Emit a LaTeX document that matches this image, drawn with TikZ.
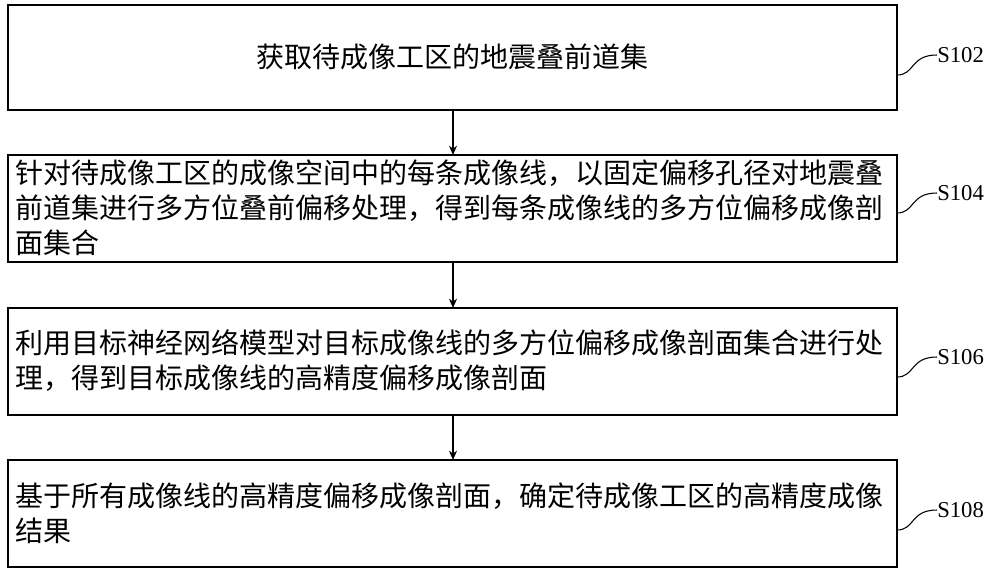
\documentclass[tikz,border=0pt]{standalone}
\usepackage{fontspec}
\setmainfont{Liberation Serif}
\newfontfamily\cjk{Noto Sans CJK SC}
\usetikzlibrary{arrows.meta}
\begin{document}
\begin{tikzpicture}[x=0.75pt,y=-0.75pt,
  box/.style={draw,line width=0.8pt},
  txt/.style={font=\cjk\fontsize{21}{26.3}\selectfont,anchor=west,align=left,inner sep=0pt},
  lab/.style={font=\fontsize{17}{20}\selectfont,anchor=west,inner sep=0pt},
  arr/.style={-{Stealth[length=7pt,width=6pt]},line width=0.8pt},
  cur/.style={line width=0.8pt}]
\useasboundingbox (0,0) rectangle (1000,575);
\draw[box] (8,5) rectangle (897,110);
\draw[box] (8,155) rectangle (897,262);
\draw[box] (8,308) rectangle (897,415);
\draw[box] (8,460) rectangle (897,567);
\node[font=\cjk\fontsize{21}{26.3}\selectfont] (t1) at (452,57) {获取待成像工区的地震叠前道集};
\node[txt] (t2) at (15,208) {针对待成像工区的成像空间中的每条成像线，以固定偏移孔径对地震叠\\前道集进行多方位叠前偏移处理，得到每条成像线的多方位偏移成像剖\\面集合};
\node[txt] (t3) at (15,361) {利用目标神经网络模型对目标成像线的多方位偏移成像剖面集合进行处\\理，得到目标成像线的高精度偏移成像剖面};
\node[txt] (t4) at (15,513) {基于所有成像线的高精度偏移成像剖面，确定待成像工区的高精度成像\\结果};
\coordinate (b1) at (453,110); \coordinate (b2t) at (453,155);
\coordinate (b2) at (453,262); \coordinate (b3t) at (453,308);
\coordinate (b3) at (453,415); \coordinate (b4t) at (453,460);
\draw[arr] (b1) -- (b2t);
\draw[arr] (b2) -- (b3t);
\draw[arr] (b3) -- (b4t);
\node[lab] (s1) at (937,55) {S102};
\node[lab] (s2) at (937,193) {S104};
\node[lab] (s3) at (937,357) {S106};
\node[lab] (s4) at (937,510) {S108};
\coordinate (e1) at (897,75); \coordinate (e2) at (897,213);
\coordinate (e3) at (897,377); \coordinate (e4) at (897,530);
\draw[cur] (e1) .. controls (915,75) and (910,55) .. (s1.west);
\draw[cur] (e2) .. controls (915,213) and (910,193) .. (s2.west);
\draw[cur] (e3) .. controls (915,377) and (910,357) .. (s3.west);
\draw[cur] (e4) .. controls (915,530) and (910,510) .. (s4.west);
\end{tikzpicture}
\end{document}
